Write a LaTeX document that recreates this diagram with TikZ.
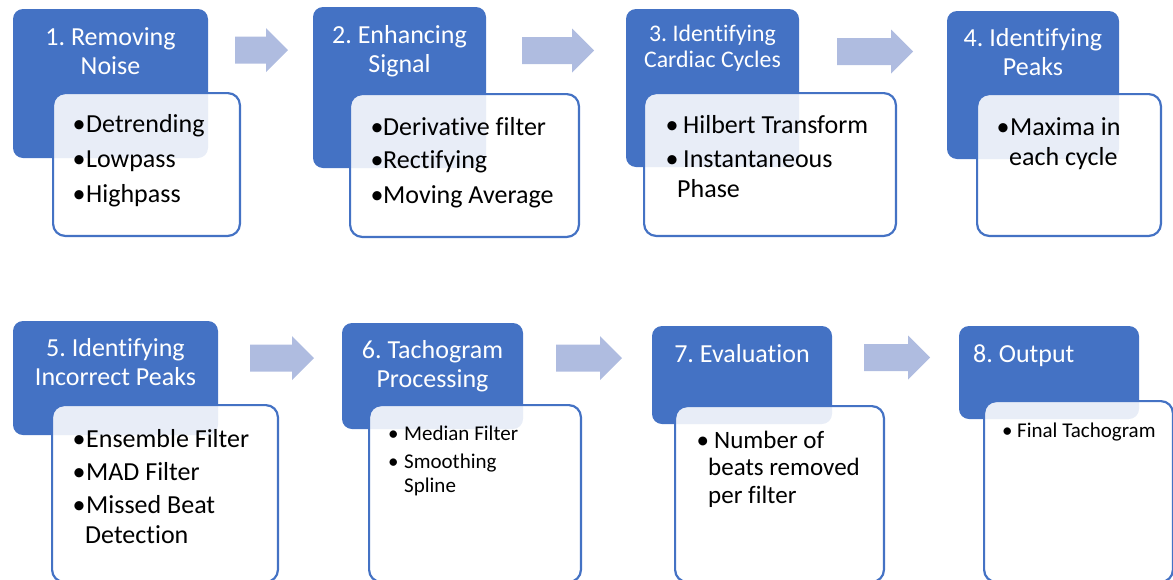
\documentclass[tikz,border=0pt]{standalone}
\usepackage{fontspec}
\setmainfont{Carlito}[Ligatures=NoCommon]
\frenchspacing
\definecolor{accent}{HTML}{4472C4}
\definecolor{arrowblue}{HTML}{AFBCE0}
\newcommand\bul[1]{\makebox[#1][l]{•}}
\newcommand\flowarrow[3]{% left x, centre y, tip x
  \fill[flow] (#1,{#2-13.5}) -- ({#3-22},{#2-13.5}) -- ({#3-22},{#2-22}) -- (#3,#2)
    -- ({#3-22},{#2+22}) -- ({#3-22},{#2+13.5}) -- (#1,{#2+13.5}) -- cycle;}
\tikzset{
  headbox/.style={fill=accent, draw=none, rounded corners=10pt, inner sep=0pt},
  listbox/.style={draw=accent, line width=2.2pt, fill=white, fill opacity=0.88,
                  rounded corners=12pt, inner sep=0pt},
  headtext/.style={text=white, align=center, inner sep=0pt, anchor=base,
                   font=\fontsize{26}{29}\selectfont},
  listtext/.style={text=black, align=left, inner sep=0pt, anchor=base west,
                   font=\fontsize{26}{30}\selectfont},
  flow/.style={fill=arrowblue, draw=none},
}
\begin{document}
\begin{tikzpicture}[x=1pt, y=-1pt]
\useasboundingbox (0,0) rectangle (1173,579);
\clip (0,0) rectangle (1173,579);

% ---------- step headers ----------
\node[headbox, minimum width=195pt, minimum height=149pt] (b1) at (110.5,83.5) {};
\node[headbox, minimum width=173pt, minimum height=161pt] (b2) at (399.5,87.5) {};
\node[headbox, minimum width=173pt, minimum height=158pt] (b3) at (712.5,88) {};
\node[headbox, minimum width=172pt, minimum height=148pt] (b4) at (1033,85) {};
\node[headbox, minimum width=205pt, minimum height=114pt] (b5) at (115.5,378) {};
\node[headbox, minimum width=181pt, minimum height=106pt] (b6) at (432.5,376) {};
\node[headbox, minimum width=180pt, minimum height=98pt]  (b7) at (742,375) {};
\node[headbox, minimum width=180pt, minimum height=93pt]  (b8) at (1049,372.5) {};

% ---------- detail panels ----------
\node[listbox, minimum width=186.8pt, minimum height=142.8pt] (w1) at (146.5,164.5) {};
\node[listbox, minimum width=228.8pt, minimum height=142.8pt] (w2) at (464.5,165.5) {};
\node[listbox, minimum width=251.8pt, minimum height=142.8pt] (w3) at (770,164.5) {};
\node[listbox, minimum width=183.8pt, minimum height=141.8pt] (w4) at (1069,165) {};
\node[listbox, minimum width=225.8pt, minimum height=176.8pt] (w5) at (165,493.5) {};
\node[listbox, minimum width=211.8pt, minimum height=176.8pt] (w6) at (475,493.5) {};
\node[listbox, minimum width=208.8pt, minimum height=175.8pt] (w7) at (779.5,494) {};
\node[listbox, minimum width=188.8pt, minimum height=180.8pt] (w8) at (1078.5,491.5) {};

% ---------- flow arrows ----------
\flowarrow{235}{50}{288}
\flowarrow{522}{50.5}{594}
\flowarrow{837}{51.5}{913}
\flowarrow{250}{358}{314}
\flowarrow{556}{358}{622}
\flowarrow{864}{357.5}{930}

% ---------- header texts (anchored on the last line's baseline) ----------
\node[headtext] (t1) at (110.5,74) {1. Removing\\Noise};
\node[headtext] (t2) at (399.5,72) {2. Enhancing\\Signal};
\node[headtext, font=\fontsize{23.8}{25.5}\selectfont] (t3) at (712.5,67) {3. Identifying\\Cardiac Cycles};
\node[headtext] (t4) at (1033,75) {4. Identifying\\Peaks};
\node[headtext] (t5) at (115.5,385) {5. Identifying\\Incorrect Peaks};
\node[headtext] (t6) at (432.5,387) {6. Tachogram\\Processing};
\node[headtext] (t7) at (742,362) {7. Evaluation};
\node[headtext, anchor=base west] (t8) at (973,362) {8. Output};

% ---------- detail texts (anchored on the last line's baseline) ----------
\node[listtext] (d1) at (72.5,202)
  {\bul{13.5pt}Detrending\\[5pt]\bul{13.5pt}Lowpass\\[5pt]\bul{13.5pt}Highpass};
\node[listtext] (d2) at (370.5,203)
  {\bul{12.5pt}Derivative filter\\[3pt]\bul{12.5pt}Rectifying\\[5pt]\bul{12.5pt}Moving Average};
\node[listtext] (d3) at (665.5,197)
  {\bul{17.5pt}Hilbert Transform\\[4pt]\bul{17.5pt}Instantaneous\\\hspace*{11.5pt}Phase};
\node[listtext] (d4) at (996.5,165)
  {\bul{13.5pt}Maxima in\\\hspace*{12.5pt}each cycle};
\node[listtext] (d5) at (72.5,543)
  {\bul{13.5pt}Ensemble Filter\\[3pt]\bul{13.5pt}MAD Filter\\[3pt]\bul{13.5pt}Missed Beat\\\hspace*{12.5pt}Detection};
\node[listtext, font=\fontsize{21}{24}\selectfont] (d6) at (388,492)
  {\bul{16pt}Median Filter\\[4pt]\bul{16pt}Smoothing\\\hspace*{16pt}Spline};
\node[listtext, font=\fontsize{25}{27.5}\selectfont] (d7) at (696.5,503)
  {\bul{17.5pt}Number of\\\hspace*{11.5pt}beats removed\\\hspace*{11.5pt}per filter};
\node[listtext, font=\fontsize{21}{24}\selectfont] (d8) at (1002,437)
  {\bul{15pt}Final Tachogram};
\end{tikzpicture}
\end{document}
